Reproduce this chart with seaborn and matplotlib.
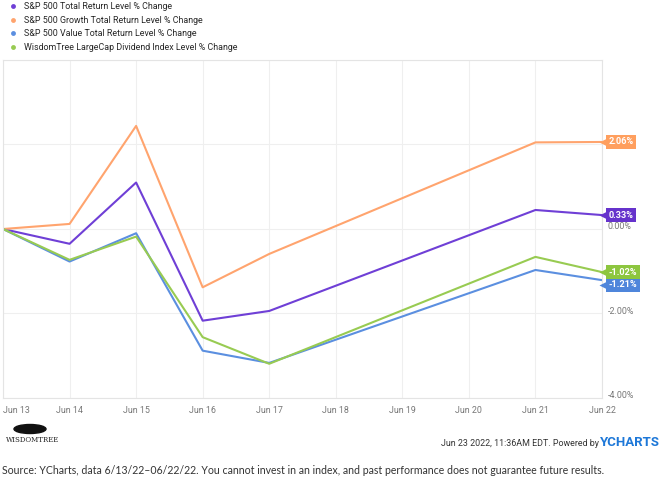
import matplotlib
matplotlib.use("Agg")
import matplotlib.pyplot as plt
import matplotlib.transforms as mtransforms
from matplotlib.lines import Line2D
from matplotlib.patches import Ellipse
import pandas as pd
import seaborn as sns

# trading days (Jun 20 market holiday)
dates = ["2022-06-13", "2022-06-14", "2022-06-15", "2022-06-16", "2022-06-17", "2022-06-21", "2022-06-22"]
sp500 = [0.00, -0.35, 1.10, -2.17, -1.94, 0.45, 0.33]
growth = [0.00, 0.12, 2.44, -1.38, -0.59, 2.05, 2.06]
value = [0.00, -0.77, -0.10, -2.88, -3.17, -0.97, -1.21]
wisdomtree = [0.00, -0.73, -0.18, -2.56, -3.19, -0.66, -1.02]

names = ["S&P 500 Total Return Level % Change",
         "S&P 500 Growth Total Return Level % Change",
         "S&P 500 Value Total Return Level % Change",
         "WisdomTree LargeCap Dividend Index Level % Change"]
line_colors = ["#6f3fd6", "#ffa46e", "#5b8fe0", "#98cb52"]
tag_colors = ["#6633cc", "#ff9f5e", "#4f86db", "#8dc63f"]

tick_days = pd.date_range("2022-06-13", "2022-06-22", freq="D")
tick_labels = [d.strftime("%b %d").replace(" 0", " ") for d in tick_days]

long = pd.concat([
    pd.DataFrame({"date": pd.to_datetime(dates), "pct": vals, "series": n})
    for n, vals in zip(names, [sp500, growth, value, wisdomtree])
])

sns.set_style("white")
plt.rcParams["font.family"] = ["Roboto", "DejaVu Sans"]

fig = plt.figure(figsize=(6.62, 4.9), dpi=100)
ax = fig.add_axes([3 / 662, 1 - 398 / 490, 599 / 662, 338 / 490])

sns.lineplot(data=long, x="date", y="pct", hue="series", hue_order=names,
             palette=line_colors, linewidth=1.5, legend=False, ax=ax)

ax.set_xlim(tick_days[0], tick_days[-1])
ax.set_ylim(-4, 4)
ax.set_xticks(tick_days)
ax.set_xticklabels(tick_labels)
ax.set_yticks([-4, -2, 0, 2, 4])
ax.set_yticklabels(["-4.00%", "-2.00%", "0.00%", "", ""])
ax.yaxis.tick_right()
ax.tick_params(axis="both", length=0, labelsize=6.4, labelcolor="#777777")
ax.tick_params(axis="x", pad=6)
ax.tick_params(axis="y", pad=4)
ax.get_xticklabels()[0].set_ha("left")
# y labels sit a little above their gridline
shift = mtransforms.ScaledTranslation(0, 3 / 100, fig.dpi_scale_trans)
for lab in ax.get_yticklabels():
    lab.set_transform(lab.get_transform() + shift)
ax.set_xlabel("")
ax.set_ylabel("")
ax.grid(True, color="#efefef", linewidth=0.8)
for sp in ax.spines.values():
    sp.set_color("#e4e4e4")
    sp.set_linewidth(0.8)

# end-of-line value tags
last_x = pd.to_datetime(dates[-1])
ends = [sp500[-1], growth[-1], value[-1], wisdomtree[-1]]
tag_y = list(ends)
order = sorted(range(4), key=lambda i: -ends[i])
for a, b in zip(order, order[1:]):
    if tag_y[a] - tag_y[b] < 0.3:
        tag_y[b] = tag_y[a] - 0.3
tip = mtransforms.offset_copy(ax.transData, fig=fig, x=2, y=0, units="dots")
for v, ty, c in zip(ends, tag_y, tag_colors):
    ax.plot([last_x], [ty], marker="<", ms=6.5, color=c, mec="none", clip_on=False,
            transform=tip, zorder=5)
    ax.annotate(f"{v:.2f}%", xy=(last_x, ty), xytext=(4.5, 0), textcoords="offset points",
                va="center", ha="left", fontsize=6.6, fontweight="bold", color="white",
                bbox=dict(boxstyle="square,pad=0.3", fc=c, ec="none"),
                annotation_clip=False, zorder=6)

# legend
handles = [Line2D([], [], marker="o", linestyle="none", ms=3.5, color=c, mec="none") for c in line_colors]
fig.legend(handles, names, loc="upper left", bbox_to_anchor=(8 / 662, 1 - 2 / 490),
           frameon=False, fontsize=6.4, handletextpad=0.6, labelspacing=0.52,
           handlelength=1.2, borderaxespad=0, borderpad=0)

# footer
fig.patches.append(Ellipse((30 / 662, 1 - 429 / 490), 32 / 662, 9 / 490,
                           transform=fig.transFigure, color="#111111"))
fig.text(6 / 662, 1 - 440 / 490, "WISDOMTREE", fontsize=5, family="DejaVu Serif",
         color="#222222", va="center", ha="left")
fig.text(599 / 662, 1 - 443 / 490, "Jun 23 2022, 11:36AM EDT. Powered by", fontsize=6.4,
         color="#333333", ha="right", va="center")
fig.text(600 / 662, 1 - 443 / 490, "YCHARTS", fontsize=9.5, fontweight="bold",
         color="#1e78d8", ha="left", va="center")
fig.text(2 / 662, 1 - 470 / 490,
         "Source: YCharts, data 6/13/22\u201306/22/22. You cannot invest in an index, and past performance does not guarantee future results.",
         fontsize=7.6, family="Lato", color="#333333", ha="left", va="center")

fig.savefig("out.png", dpi=100)
